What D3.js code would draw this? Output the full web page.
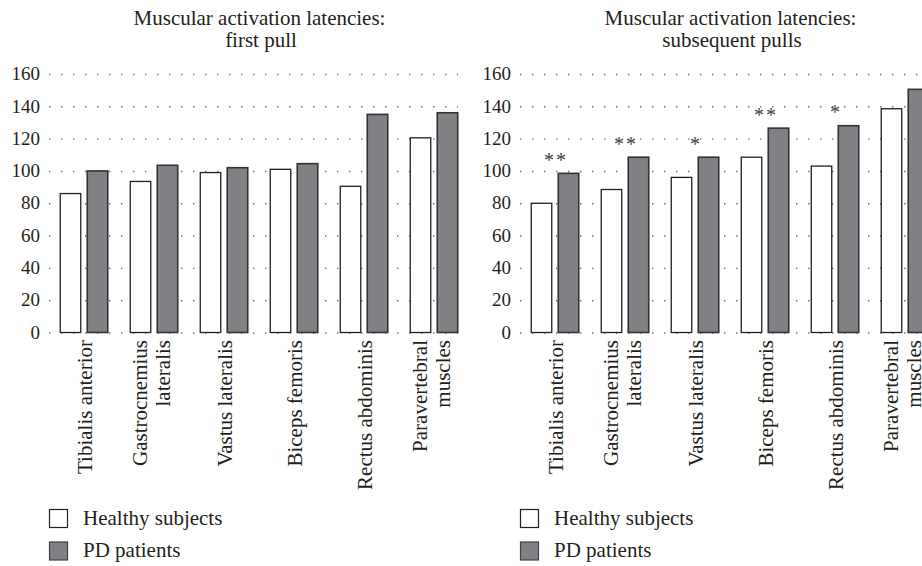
<!DOCTYPE html>
<html>
<head>
<meta charset="utf-8">
<script src="https://cdn.jsdelivr.net/npm/d3@7"></script>
<style>
  html, body { margin: 0; padding: 0; background: #fff; }
  svg { display: block; }
  svg text { font-family: "Liberation Serif", "DejaVu Serif", serif; }
</style>
</head>
<body>
<svg id="chart" width="922" height="566"></svg>
<script>
// ---- data ----
const categories = ["Tibialis anterior", "Gastrocnemius lateralis", "Vastus lateralis", "Biceps femoris", "Rectus abdominis", "Paravertebral muscles"];
const categoryLines = [["Tibialis anterior"], ["Gastrocnemius", "lateralis"], ["Vastus lateralis"], ["Biceps femoris"], ["Rectus abdominis"], ["Paravertebral", "muscles"]];
const seriesNames = ["Healthy subjects", "PD patients"];
const healthyFirst = [86, 93.5, 99, 101, 90.5, 120.5];
const pdFirst = [100, 103.5, 102, 104.5, 135, 136];
const healthySubsequent = [80, 88.5, 96, 108.5, 103, 138.5];
const pdSubsequent = [98.5, 108.5, 108.5, 126.5, 128, 150.5];
const sigFirst = ["", "", "", "", "", ""];
const sigSubsequent = ["**", "**", "*", "**", "*", ""];
const yTicks = [0, 20, 40, 60, 80, 100, 120, 140, 160];
const titles = [["Muscular activation latencies:", "first pull"], ["Muscular activation latencies:", "subsequent pulls"]];

// ---- style ----
const TEXT = "#231f20";
const DARK = "#808184";

const svg = d3.select("#chart");

function panel(offsetX, healthy, pd, sig, title, gridLen) {
  const x0 = 49 + offsetX;
  const g = svg.append("g");
  const y = d3.scaleLinear().domain([0, 160]).range([332.5, 74]);
  const x = d3.scaleBand().domain(categories).range([x0, x0 + 420]).padding(0);
  const xs = d3.scaleBand().domain(seriesNames).range([0, x.bandwidth()])
    .paddingInner(0.185).paddingOuter(0.389);

  // gridlines + tick labels via axis
  const ax = g.append("g").attr("transform", `translate(${x0},0)`)
    .call(d3.axisLeft(y).tickValues(yTicks).tickSize(-gridLen).tickPadding(9));
  ax.attr("font-family", null).attr("font-size", null);
  ax.select(".domain").remove();
  ax.selectAll(".tick line")
    .attr("stroke", "#6d6e71").attr("stroke-width", 1.4)
    .attr("stroke-dasharray", "1.4 10.6");
  ax.selectAll(".tick text")
    .attr("fill", TEXT).style("font-size", "19px")
    .attr("dy", "0.3em");

  // bars
  const rows = categories.map((c, i) => ({ c, i, vals: [healthy[i], pd[i]] }));
  const grp = g.selectAll("g.grp").data(rows).join("g").attr("class", "grp")
    .attr("transform", d => `translate(${x(d.c)},0)`);
  grp.selectAll("rect").data(d => d.vals.map((v, k) => ({ s: seriesNames[k], v, k })))
    .join("rect")
    .attr("x", d => xs(d.s) + 0.75)
    .attr("width", xs.bandwidth() - 1.5)
    .attr("y", d => y(d.v))
    .attr("height", d => y(0) - y(d.v))
    .attr("fill", d => d.k === 0 ? "#ffffff" : DARK)
    .attr("stroke", d => d.k === 0 ? "#231f20" : "#333333")
    .attr("stroke-width", d => d.k === 0 ? 1.3 : 1.6);

  // significance markers
  grp.append("text")
    .attr("x", x.bandwidth() / 2 + 1)
    .attr("y", d => y(Math.max(...d.vals)) - 6.5)
    .attr("text-anchor", "middle")
    .attr("fill", "#414042")
    .style("font-size", "20px")
    .style("letter-spacing", "2px")
    .text(d => sig[d.i]);

  // category labels (rotated)
  rows.forEach(d => {
    const lines = categoryLines[d.i];
    const gc = x(d.c) + x.bandwidth() / 2;
    const bases = lines.length === 1 ? [gc + 7.5] : [gc - 7, gc + 15.5];
    lines.forEach((ln, j) => {
      g.append("text")
        .attr("transform", `translate(${bases[j]},340) rotate(-90)`)
        .attr("text-anchor", "end")
        .attr("fill", TEXT)
        .style("font-size", "21px")
        .text(ln);
    });
  });

  // title
  title.forEach((t, j) => {
    g.append("text")
      .attr("x", 259.5 + offsetX + j * 1.5).attr("y", 25 + j * 22)
      .attr("text-anchor", "middle")
      .attr("fill", TEXT)
      .style("font-size", "21px")
      .text(t);
  });

  // legend
  const lg = g.append("g").attr("transform", `translate(${x0},0)`);
  seriesNames.forEach((s, k) => {
    lg.append("rect")
      .attr("x", 0.5).attr("y", 509.5 + k * 32.5)
      .attr("width", 18).attr("height", 18)
      .attr("fill", k === 0 ? "#fff" : DARK)
      .attr("stroke", k === 0 ? "#231f20" : "#414042").attr("stroke-width", 1.2);
    lg.append("text")
      .attr("x", 34).attr("y", 524.5 + k * 32.5)
      .attr("fill", TEXT)
      .style("font-size", "21px")
      .text(s);
  });
}

panel(0, healthyFirst, pdFirst, sigFirst, titles[0], 409);
panel(471, healthySubsequent, pdSubsequent, sigSubsequent, titles[1], 420);
</script>
</body>
</html>
